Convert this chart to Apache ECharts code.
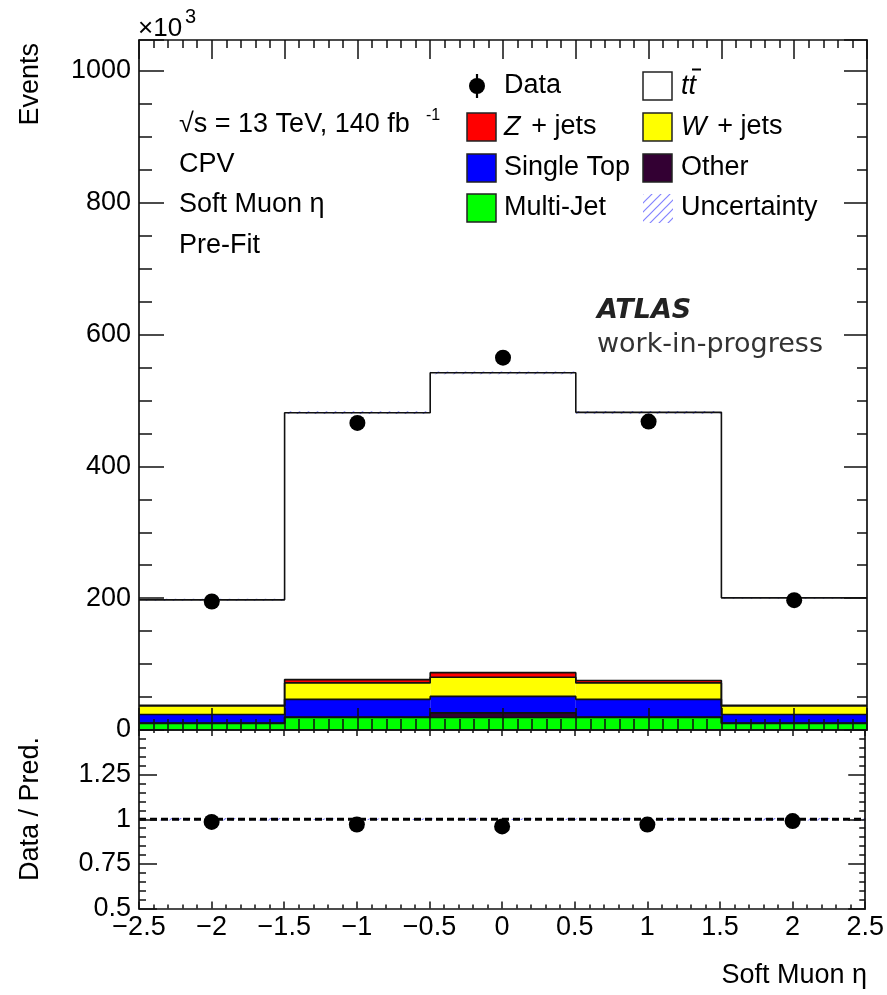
<!DOCTYPE html>
<html>
<head>
<meta charset="utf-8">
<script src="https://cdn.jsdelivr.net/npm/echarts@6/dist/echarts.min.js"></script>
<style>
  html, body { margin: 0; padding: 0; background: #fff; }
  #chart { width: 887px; height: 995px; }
</style>
</head>
<body>
<div id="chart"></div>
<script>
// Soft muon eta distribution: binned events (in units of 10^3) per process
const binCenters = [-2, -1, 0, 1, 2];
const binWidth = 1;
const multiJet  = [10, 19, 19, 19, 10];
const other     = [0.5, 0.5, 7, 0.5, 0.5];
const singleTop = [13, 27, 25, 27, 13];
const wJets     = [13, 25, 29, 25, 13];
const zJets     = [1, 5, 7, 3.5, 1];
const ttbar     = [160, 405, 455, 407, 163];
const dataEvents = [195, 466, 565, 468, 197];
const systUnc   = [1.5, 2, 2, 2, 1.5];
// Data / prediction ratio panel
const ratioValues = [0.985, 0.97, 0.96, 0.97, 0.99];
const ratioReference = 1;

const FONT = '"Liberation Sans", Arial, Helvetica, sans-serif';
const INK = '#111';

// Stack layers from bottom to top
const layers = [
  { name: 'Multi-Jet',  values: multiJet,  color: '#00ff00' },
  { name: 'Other',      values: other,     color: '#330033' },
  { name: 'Single Top', values: singleTop, color: '#0000ff' },
  { name: 'W + jets',   values: wJets,     color: '#ffff00' },
  { name: 'Z + jets',   values: zJets,     color: '#ff0000' },
  { name: 'ttbar',      values: ttbar,     color: '#ffffff' }
];

// Diagonal hatch used for the uncertainty band
const hatch = document.createElement('canvas');
hatch.width = 9; hatch.height = 9;
(function () {
  const g = hatch.getContext('2d');
  g.strokeStyle = 'rgba(90,90,255,0.75)';
  g.lineWidth = 1.2;
  g.beginPath();
  g.moveTo(0, 9); g.lineTo(9, 0);
  g.moveTo(-2, 2); g.lineTo(2, -2);
  g.moveTo(7, 11); g.lineTo(11, 7);
  g.stroke();
})();
const hatchFill = { image: hatch, repeat: 'repeat' };

function binRect(fill) {
  return function (params, api) {
    const c = api.value(0), lo = api.value(1), hi = api.value(2);
    const p0 = api.coord([c - binWidth / 2, hi]);
    const p1 = api.coord([c + binWidth / 2, lo]);
    return {
      type: 'rect',
      shape: { x: p0[0], y: p0[1], width: p1[0] - p0[0], height: p1[1] - p0[1] },
      style: { fill: fill }
    };
  };
}

const series = [];
const cumulative = binCenters.map(() => 0);
layers.forEach((layer, li) => {
  const rows = binCenters.map((c, i) => [c, cumulative[i], cumulative[i] + layer.values[i]]);
  rows.forEach((r, i) => { cumulative[i] = r[2]; });
  series.push({
    type: 'custom', name: layer.name, xAxisIndex: 0, yAxisIndex: 0,
    renderItem: binRect(layer.color), data: rows, z: 2 + li * 0.01, silent: true
  });
  // step outline of this layer's upper edge
  const tops = rows.map(r => [r[0], r[2]]);
  const outline = [[binCenters[0] - binWidth / 2, tops[0][1]]].concat(tops,
    [[binCenters[binCenters.length - 1] + binWidth / 2, tops[tops.length - 1][1]]]);
  series.push({
    type: 'line', xAxisIndex: 0, yAxisIndex: 0, data: outline, step: 'middle',
    symbol: 'none', lineStyle: { color: INK, width: 1.6 }, z: 4, silent: true
  });
});
const totalPred = cumulative.slice();

// Uncertainty band around the total prediction
series.push({
  type: 'custom', xAxisIndex: 0, yAxisIndex: 0, z: 3.5, silent: true,
  renderItem: binRect(hatchFill),
  data: binCenters.map((c, i) => [c, totalPred[i] - systUnc[i], totalPred[i] + systUnc[i]])
});
series.push({
  type: 'custom', xAxisIndex: 2, yAxisIndex: 2, z: 3, silent: true,
  renderItem: binRect(hatchFill),
  data: binCenters.map((c, i) => [c, 1 - systUnc[i] / totalPred[i], 1 + systUnc[i] / totalPred[i]])
});

// Reference line at ratio = 1 spanning the full eta range
series.push({
  type: 'line', xAxisIndex: 2, yAxisIndex: 2, z: 5, silent: true, symbol: 'none',
  lineStyle: { color: '#000', width: 3, type: [7, 4] },
  data: [[binCenters[0] - binWidth / 2, ratioReference],
         [binCenters[binCenters.length - 1] + binWidth / 2, ratioReference]]
});

series.push({
  type: 'scatter', name: 'Data', xAxisIndex: 0, yAxisIndex: 0, z: 20,
  symbol: 'circle', symbolSize: 16, itemStyle: { color: '#000', opacity: 1 },
  data: binCenters.map((c, i) => [c, dataEvents[i]])
});
series.push({
  type: 'scatter', xAxisIndex: 2, yAxisIndex: 2, z: 20,
  symbol: 'circle', symbolSize: 16, itemStyle: { color: '#000', opacity: 1 },
  data: binCenters.map((c, i) => [c, ratioValues[i]])
});

const tickStyle = { color: INK, width: 1.5 };
function xAxisDef(gridIndex, position, major, minor, labels) {
  return {
    type: 'value', gridIndex: gridIndex, position: position,
    min: -2.5, max: 2.5, interval: 0.5, z: 10,
    axisLine: { show: true, onZero: false, lineStyle: { color: INK, width: 1.7 } },
    axisTick: { show: true, inside: true, length: major, lineStyle: tickStyle },
    minorTick: { show: minor > 0, splitNumber: 5, length: minor, lineStyle: tickStyle },
    splitLine: { show: false },
    axisLabel: {
      show: labels, margin: 6, fontSize: 27, fontFamily: FONT, color: '#000',
      showMinLabel: true, showMaxLabel: true,
      formatter: v => String(v).replace('-', '\u2212')
    }
  };
}
function yAxisDef(gridIndex, position, min, max, interval, split, major, minor, fmt) {
  return {
    type: 'value', gridIndex: gridIndex, position: position,
    min: min, max: max, interval: interval, z: 10,
    axisLine: { show: true, onZero: false, lineStyle: { color: INK, width: 1.7 } },
    axisTick: { show: true, inside: true, length: major, lineStyle: tickStyle },
    minorTick: { show: true, splitNumber: split, length: minor, lineStyle: tickStyle },
    splitLine: { show: false },
    axisLabel: fmt ? {
      show: true, margin: 8, fontSize: 27, fontFamily: FONT, color: '#000',
      showMinLabel: true, showMaxLabel: true, formatter: fmt
    } : { show: false }
  };
}

function legendBox(x, y, fill) {
  return {
    type: 'rect', shape: { x: x, y: y, width: 29, height: 28 },
    style: { fill: fill, stroke: '#222', lineWidth: 1.5 }, z: 50
  };
}
function txt(x, y, text, extra) {
  return {
    type: 'text', x: x, y: y, z: 50,
    style: Object.assign({ text: text, fontSize: 27, fontFamily: FONT, fill: '#000', verticalAlign: 'middle' }, extra || {})
  };
}
const it = { fontStyle: 'italic', fontSize: 27, fontFamily: FONT, fill: '#000' };
const rm = { fontSize: 27, fontFamily: FONT, fill: '#000' };

const graphics = [
  // axis titles
  txt(138, 29, '\u00d710', { fontSize: 26 }),
  txt(185, 17, '3', { fontSize: 20 }),
  { type: 'text', x: 31, y: 43, rotation: Math.PI / 2, z: 50,
    style: { text: 'Events', fontSize: 27, fontFamily: FONT, fill: '#000', align: 'right', verticalAlign: 'middle' } },
  { type: 'text', x: 31, y: 737, rotation: Math.PI / 2, z: 50,
    style: { text: 'Data / Pred.', fontSize: 27, fontFamily: FONT, fill: '#000', align: 'right', verticalAlign: 'middle' } },
  txt(867, 976, 'Soft Muon \u03b7', { align: 'right' }),

  // annotation block
  txt(179, 125, '\u221as = 13 TeV, 140 fb'),
  txt(426, 116, '-1', { fontSize: 16 }),
  txt(179, 165, 'CPV'),
  txt(179, 205, 'Soft Muon \u03b7'),
  txt(179, 246, 'Pre-Fit'),
  txt(597, 311, 'ATLAS', { fontFamily: '"DejaVu Sans", sans-serif', fontWeight: 'bold', fontStyle: 'italic', fontSize: 27, fill: '#222' }),
  txt(597, 345, 'work-in-progress', { fontFamily: '"DejaVu Sans", sans-serif', fontSize: 27, fill: '#333' }),

  // legend
  { type: 'line', shape: { x1: 477, y1: 74, x2: 477, y2: 98 }, style: { stroke: '#000', lineWidth: 2.2 }, z: 50 },
  { type: 'circle', shape: { cx: 477, cy: 86, r: 8 }, style: { fill: '#000' }, z: 51 },
  txt(504, 86, 'Data'),
  legendBox(643, 72, '#fff'),
  txt(681, 86, 'tt', { fontStyle: 'italic' }),
  { type: 'line', shape: { x1: 692, y1: 69.5, x2: 701, y2: 69.5 }, style: { stroke: '#000', lineWidth: 2 }, z: 50 },
  legendBox(467, 113, '#ff0000'),
  { type: 'text', x: 504, y: 127, z: 50,
    style: { text: '{i|Z} {r| + jets}', verticalAlign: 'middle', rich: { i: it, r: rm } } },
  legendBox(643, 113, '#ffff00'),
  { type: 'text', x: 681, y: 127, z: 50,
    style: { text: '{i|W} {r| + jets}', verticalAlign: 'middle', rich: { i: it, r: rm } } },
  legendBox(467, 154, '#0000ff'),
  txt(504, 168, 'Single Top'),
  legendBox(643, 154, '#330033'),
  txt(681, 168, 'Other'),
  legendBox(467, 194, '#00ff00'),
  txt(504, 208, 'Multi-Jet'),
  { type: 'rect', shape: { x: 643, y: 194, width: 30, height: 29 }, style: { fill: hatchFill }, z: 50 },
  txt(681, 208, 'Uncertainty')
];

const chart = echarts.init(document.getElementById('chart'), null, { renderer: 'canvas' });
chart.setOption({
  animation: false,
  backgroundColor: '#fff',
  grid: [
    { left: 139, right: 20, top: 40, height: 690 },
    { left: 139, right: 20, top: 730, height: 178.5 }
  ],
  xAxis: [
    xAxisDef(0, 'bottom', 22, 11, false),
    xAxisDef(0, 'top', 19, 8, false),
    xAxisDef(1, 'bottom', 7, 4, true),
    xAxisDef(1, 'top', 6, 3, false)
  ],
  yAxis: [
    yAxisDef(0, 'left', 0, 1047, 200, 4, 25, 13, v => (v % 200 === 0 ? String(v) : '')),
    yAxisDef(0, 'right', 0, 1047, 200, 4, 23, 10, null),
    yAxisDef(1, 'left', 0.5, 1.5, 0.25, 5, 18, 7, v => (v >= 1.5 ? '' : String(v))),
    yAxisDef(1, 'right', 0.5, 1.5, 0.25, 5, 17, 6, null)
  ],
  series: series,
  graphic: graphics
});
</script>
</body>
</html>
